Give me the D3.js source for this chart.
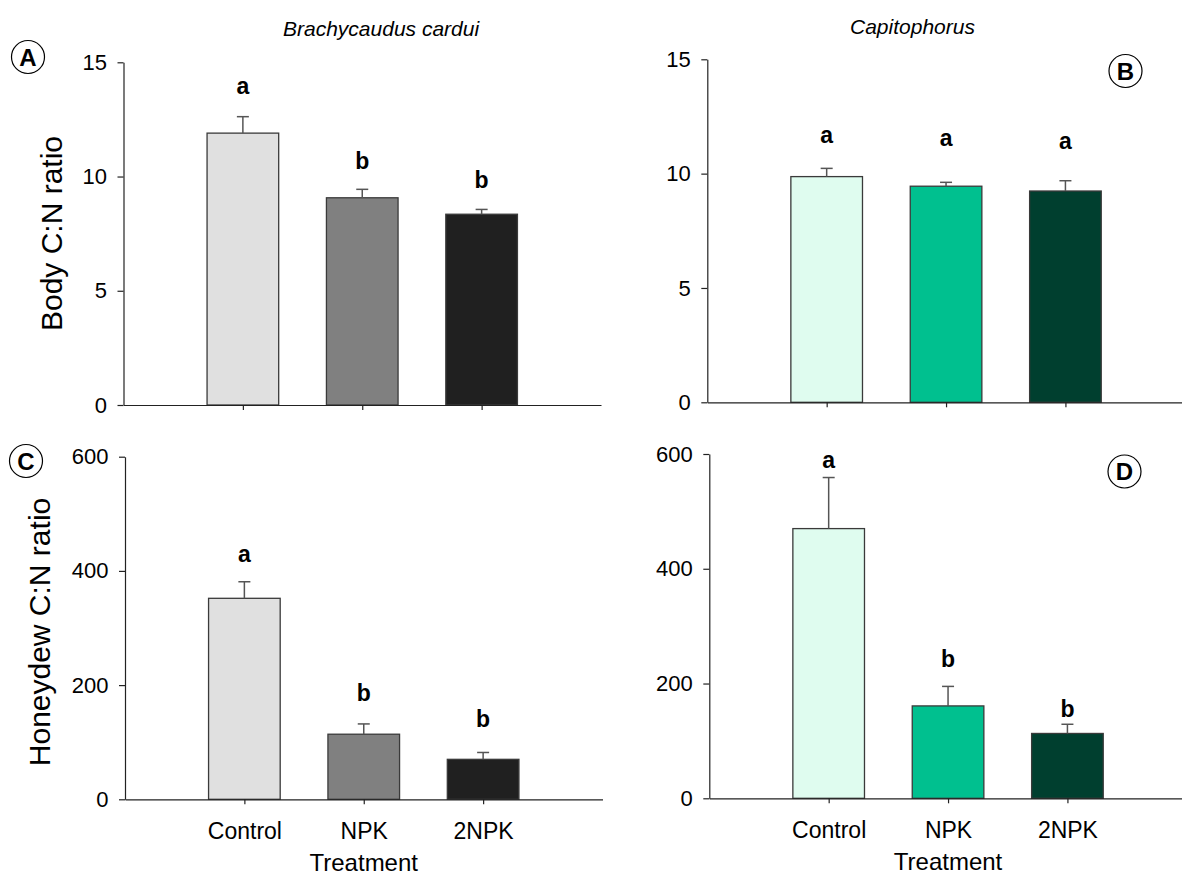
<!DOCTYPE html>
<html>
<head>
<meta charset="utf-8">
<script src="https://cdn.jsdelivr.net/npm/d3@7"></script>
<style>
  body { margin: 0; background: #fff; }
  text { font-family: "Liberation Sans", Arial, sans-serif; fill: #000; }
</style>
</head>
<body>
<div id="chart"></div>
<script>
// treatments
const categories = ["Control", "NPK", "2NPK"];

// body C:N ratio
const bodyCardui = [11.9, 9.07, 8.35];
const bodyCarduiErr = [0.72, 0.37, 0.21];
const bodyCapito = [9.87, 9.45, 9.24];
const bodyCapitoErr = [0.36, 0.17, 0.45];

// honeydew C:N ratio
const honeyCardui = [352, 114, 70];
const honeyCarduiErr = [29, 18, 12];
const honeyCapito = [470, 161, 113];
const honeyCapitoErr = [89, 34, 16];

// significance letters and the value they sit at
const lettersA = ["a", "b", "b"], lettersAt_A = [13.63, 10.32, 9.49];
const lettersB = ["a", "a", "a"], lettersAt_B = [11.33, 11.21, 11.08];
const lettersC = ["a", "b", "b"], lettersAt_C = [415, 173, 127];
const lettersD = ["a", "b", "b"], lettersAt_D = [576, 229, 142];

const bodyTicks = [0, 5, 10, 15];
const honeyTicks = [0, 200, 400, 600];

const greys = ["#e0e0e0", "#808080", "#202020"];
const greens = ["#dffcef", "#00c08f", "#003f2f"];

const W = 1182, H = 882;
const svg = d3.select("#chart").append("svg").attr("width", W).attr("height", H);

const panels = [
  { ax: 123.5, y0: 405, yTop: 62.3, max: 15, ticks: bodyTicks, vals: bodyCardui, err: bodyCarduiErr,
    letters: lettersA, letterAt: lettersAt_A, fills: greys, tag: "A", tagX: 28, tagY: 57, showCats: false },
  { ax: 707.3, y0: 402.3, yTop: 59.3, max: 15, ticks: bodyTicks, vals: bodyCapito, err: bodyCapitoErr,
    letters: lettersB, letterAt: lettersAt_B, fills: greens, tag: "B", tagX: 1125.5, tagY: 71, showCats: false },
  { ax: 125, y0: 799.3, yTop: 456.7, max: 600, ticks: honeyTicks, vals: honeyCardui, err: honeyCarduiErr,
    letters: lettersC, letterAt: lettersAt_C, fills: greys, tag: "C", tagX: 26, tagY: 461, showCats: true },
  { ax: 709.3, y0: 798.3, yTop: 454, max: 600, ticks: honeyTicks, vals: honeyCapito, err: honeyCapitoErr,
    letters: lettersD, letterAt: lettersAt_D, fills: greens, tag: "D", tagX: 1124.5, tagY: 471.5, showCats: true }
];

panels.forEach(p => {
  const g = svg.append("g");
  const x = d3.scaleLinear().domain([0, 4]).range([p.ax, p.ax + 477.5]);
  const y = d3.scaleLinear().domain([0, p.max]).range([p.y0, p.yTop]);
  const bw = x(0.6) - x(0);

  // bars
  g.selectAll(".bar")
    .data(p.vals)
    .enter()
    .append("rect")
    .attr("x", (d, i) => x(i + 1) - bw / 2)
    .attr("y", d => y(d))
    .attr("width", bw)
    .attr("height", d => y(0) - y(d))
    .attr("fill", (d, i) => p.fills[i])
    .attr("stroke", "#3a3a3a")
    .attr("stroke-width", 1.3);

  // error bars
  const eb = g.selectAll(".err").data(p.vals).enter().append("g").attr("stroke", "#555").attr("stroke-width", 1.5);
  eb.append("line")
    .attr("x1", (d, i) => x(i + 1)).attr("x2", (d, i) => x(i + 1))
    .attr("y1", d => y(d)).attr("y2", (d, i) => y(d + p.err[i]));
  eb.append("line")
    .attr("x1", (d, i) => x(i + 1) - 6).attr("x2", (d, i) => x(i + 1) + 6)
    .attr("y1", (d, i) => y(d + p.err[i])).attr("y2", (d, i) => y(d + p.err[i]));

  // letters
  g.selectAll(".letter")
    .data(p.letters)
    .enter()
    .append("text")
    .attr("x", (d, i) => x(i + 1))
    .attr("y", (d, i) => y(p.letterAt[i]))
    .attr("text-anchor", "middle")
    .style("font-size", "23px")
    .style("font-weight", "bold")
    .text(d => d);

  // y axis
  const ya = g.append("g")
    .attr("transform", `translate(${p.ax},0)`)
    .call(d3.axisLeft(y).tickValues(p.ticks).tickSize(6).tickSizeOuter(0).tickPadding(10.5));
  ya.selectAll("text").style("font-size", "22px").attr("fill", "#000");
  ya.selectAll("line, path").attr("stroke", "#222").attr("stroke-width", 1.2);

  // x axis
  const xa = g.append("g")
    .attr("transform", `translate(0,${p.y0})`)
    .call(d3.axisBottom(x).tickValues([1, 2, 3]).tickSize(5).tickSizeOuter(0).tickPadding(18.5)
      .tickFormat((d, i) => p.showCats ? categories[i] : ""));
  xa.selectAll("text").style("font-size", "23px").attr("fill", "#000");
  xa.selectAll("line, path").attr("stroke", "#222").attr("stroke-width", 1.2);

  if (p.showCats) {
    g.append("text")
      .attr("x", x(2))
      .attr("y", p.y0 + 72)
      .attr("text-anchor", "middle")
      .style("font-size", "24px")
      .text("Treatment");
  }

  // panel tag
  g.append("circle")
    .attr("cx", p.tagX).attr("cy", p.tagY).attr("r", 16.5)
    .attr("fill", "none").attr("stroke", "#000").attr("stroke-width", 1.2);
  g.append("text")
    .attr("x", p.tagX).attr("y", p.tagY)
    .attr("dy", "0.36em")
    .attr("text-anchor", "middle")
    .style("font-size", "24px")
    .style("font-weight", "bold")
    .text(p.tag);
});

// species titles
svg.append("text").attr("x", 283).attr("y", 36)
  .style("font-size", "21px").style("font-style", "italic")
  .text("Brachycaudus cardui");
svg.append("text").attr("x", 850).attr("y", 34)
  .style("font-size", "21px").style("font-style", "italic")
  .text("Capitophorus");

// y axis titles
svg.append("text")
  .attr("transform", "translate(62,233.5) rotate(-90)")
  .attr("text-anchor", "middle")
  .style("font-size", "30px")
  .text("Body C:N ratio");
svg.append("text")
  .attr("transform", "translate(50,632) rotate(-90)")
  .attr("text-anchor", "middle")
  .style("font-size", "30px")
  .text("Honeydew C:N ratio");
</script>
</body>
</html>
